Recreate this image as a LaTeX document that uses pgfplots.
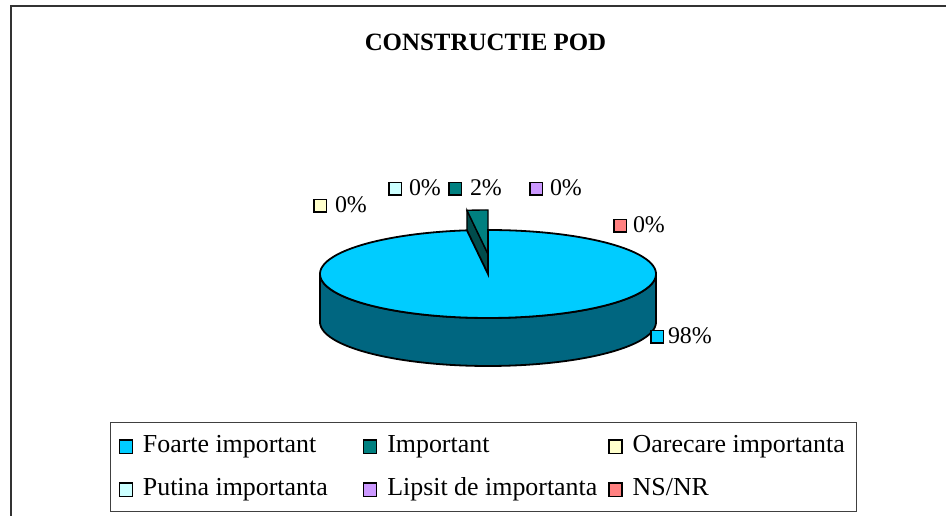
\documentclass[border=0pt]{standalone}
\usepackage{pgfplots}
\pgfplotsset{compat=1.18}
\usepgfplotslibrary{fillbetween}
\usepackage{fontspec}
\setmainfont{Liberation Serif}
\definecolor{cFoarte}{HTML}{00CCFF}
\definecolor{cFoarteSide}{HTML}{006680}
\definecolor{cImp}{HTML}{008080}
\definecolor{cImpDark}{HTML}{004C4C}
\definecolor{cOare}{HTML}{FFFFCC}
\definecolor{cPutina}{HTML}{CCFFFF}
\definecolor{cLipsit}{HTML}{CC99FF}
\definecolor{cNS}{HTML}{FF8080}
% data (percent)
\def\vFoarte{98}\def\vImp{2}\def\vOare{0}\def\vPutina{0}\def\vLipsit{0}\def\vNS{0}
\newcommand\sq[1]{\raisebox{1.5bp}{\setlength\fboxsep{0pt}\setlength\fboxrule{1.4bp}\fcolorbox{black}{#1}{\rule{0pt}{11bp}\rule{11bp}{0pt}}}}
\newcommand\lent[2]{\hspace{5bp}\makebox[#1][l]{#2}}
\begin{document}
\begin{tikzpicture}
\pgfmathsetmacro\aB{90+3.6*\vImp}
\pgfmathsetmacro\ox{488+168*cos(\aB)}
\pgfmathsetmacro\oyT{262+44*sin(\aB)}
\pgfmathsetmacro\oyB{\oyT-48}
\begin{axis}[x=1bp,y=1bp,xmin=0,xmax=946,ymin=0,ymax=516,scale only axis,hide axis,
 legend image code/.code={\draw[#1,line width=1.4bp] (0bp,-8bp) rectangle (13bp,5.5bp);},
 legend columns=3, legend cell align=left,
 legend style={at={(rel axis cs:0.11628,0.18217)},anchor=north west, draw=black!75, line width=1bp,
   inner xsep=8bp, inner ysep=10bp, row sep=17bp, column sep=0bp,
   font=\fontsize{26}{30}\selectfont,
   nodes={inner xsep=5bp, inner ysep=0bp, text height=20bp, text depth=6bp}},
]
% outer frame
\addplot[forget plot, draw=black!80, line width=1.5bp] coordinates {(11,0) (11,510) (946,510)};
% exploded slice "Important"
\addplot[forget plot, fill=cImpDark, draw=black, line width=1.4bp] coordinates {(488,262) (\ox,\oyT) (\ox,\oyB) (488,214) (488,262)};
\addplot[forget plot, fill=cImp, draw=black, line width=1.4bp, domain=90:\aB, samples=10] ({488+168*cos(x)},{262+44*sin(x)}) -- (axis cs:488,262) -- cycle;
% main slice side
\addplot[forget plot, draw=none, name path=A, domain=180:360, samples=120] ({488+168*cos(x)},{242+44*sin(x)});
\addplot[forget plot, draw=none, name path=B, domain=180:360, samples=120] ({488+168*cos(x)},{194+44*sin(x)});
\addplot[forget plot, fill=cFoarteSide, draw=black, line width=1.8bp] fill between[of=A and B];
% main slice top
\addplot[forget plot, fill=cFoarte, draw=black, line width=1.8bp, domain=\aB:450, samples=200] ({488+168*cos(x)},{242+44*sin(x)}) -- (axis cs:488,242) -- cycle;
% title
\node[font=\fontsize{25}{30}\selectfont\bfseries] at (axis cs:485.5,474) {CONSTRUCTIE POD};
% data labels
\begin{scope}[every node/.style={anchor=base west, inner sep=0pt, font=\fontsize{24}{28}\selectfont}]
\node at (axis cs:313,303) {\sq{cOare}\hspace{8bp}\vOare\%};
\node at (axis cs:388,320) {\sq{cPutina}\hspace{7bp}\vPutina\%};
\node at (axis cs:448,320) {\sq{cImp}\hspace{8bp}\vImp\%};
\node at (axis cs:529,320) {\sq{cLipsit}\hspace{7bp}\vLipsit\%};
\node at (axis cs:613,283) {\sq{cNS}\hspace{6bp}\vNS\%};
\node at (axis cs:650,172) {\sq{cFoarte}\hspace{4bp}\vFoarte\%};
\end{scope}
\addlegendimage{fill=cFoarte,draw=black}\addlegendentry{\lent{215bp}{Foarte important}}
\addlegendimage{fill=cImp,draw=black}\addlegendentry{\lent{216bp}{Important}}
\addlegendimage{fill=cOare,draw=black}\addlegendentry{\lent{211bp}{Oarecare importanta}}
\addlegendimage{fill=cPutina,draw=black}\addlegendentry{\lent{215bp}{Putina importanta}}
\addlegendimage{fill=cLipsit,draw=black}\addlegendentry{\lent{216bp}{Lipsit de importanta}}
\addlegendimage{fill=cNS,draw=black}\addlegendentry{\lent{211bp}{NS/NR}}
\end{axis}
\pgfresetboundingbox
\path (current axis.south west) rectangle (current axis.north east);
\end{tikzpicture}
\end{document}
